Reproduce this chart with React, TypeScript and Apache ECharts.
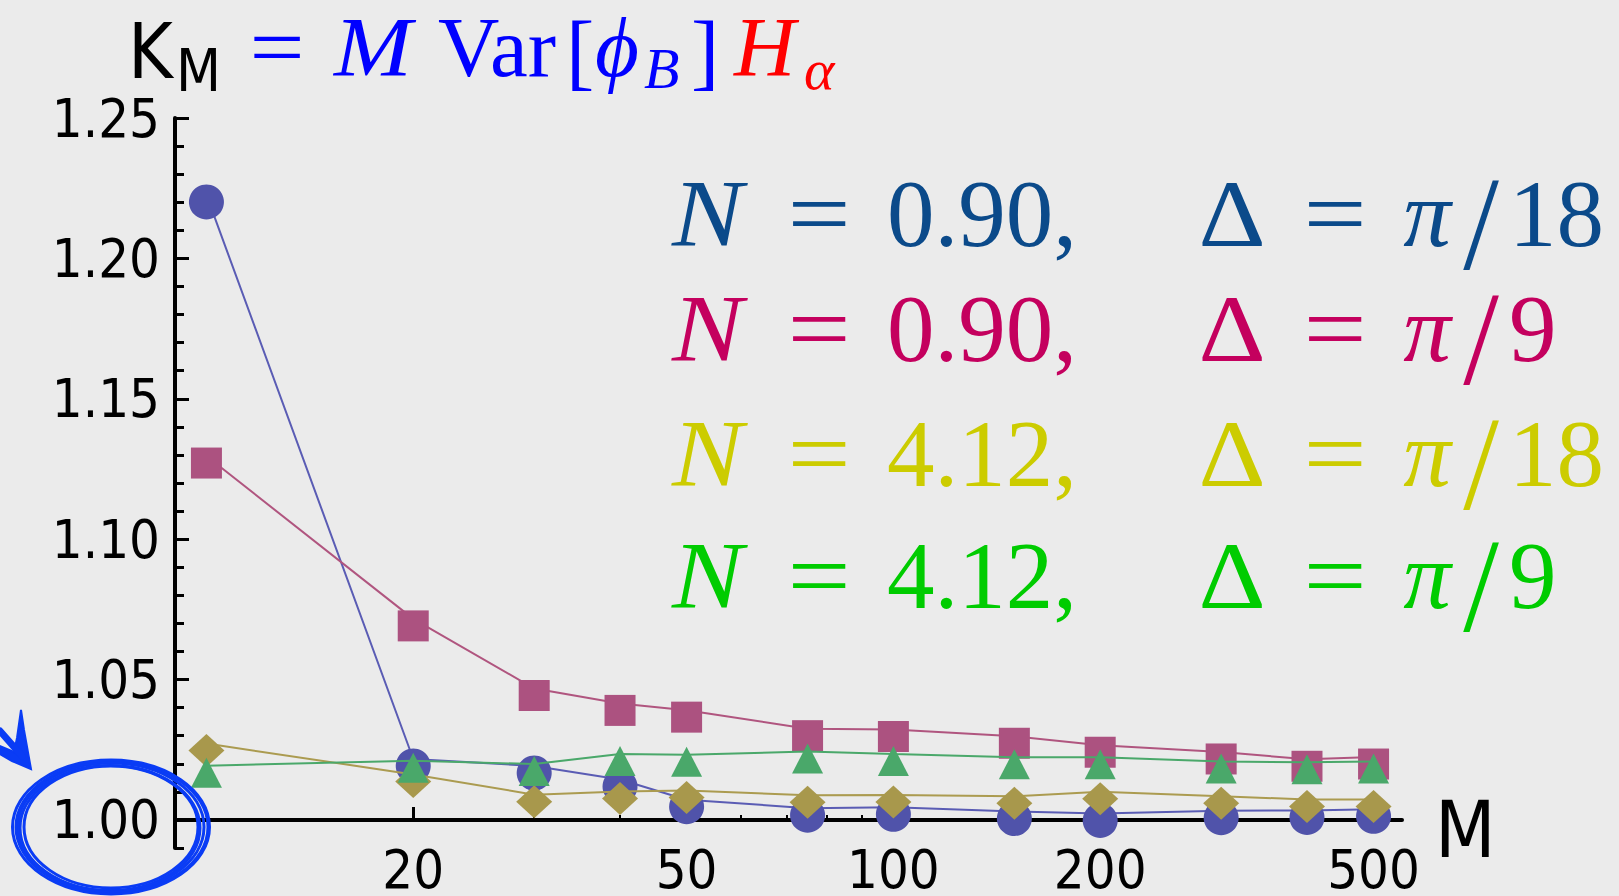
import React, { useEffect, useRef } from "react";
import * as echarts from "echarts";

// ---- data ----
const M_VALUES = [10, 20, 30, 40, 50, 75, 100, 150, 200, 300, 400, 500];
const K_N090_PI18 = [1.2226, 1.0217, 1.0192, 1.0144, 1.0072, 1.0042, 1.0045, 1.003, 1.0023, 1.0033, 1.0034, 1.0038];
const K_N090_PI9 = [1.1296, 1.0716, 1.0468, 1.0415, 1.0391, 1.0325, 1.0322, 1.0298, 1.0266, 1.0242, 1.0216, 1.0224];
const K_N412_PI18 = [1.0272, 1.0162, 1.009, 1.0101, 1.0105, 1.0088, 1.0089, 1.0084, 1.01, 1.0084, 1.0073, 1.0073];
const K_N412_PI9 = [1.0193, 1.0211, 1.0199, 1.0235, 1.0232, 1.0244, 1.0235, 1.0223, 1.0223, 1.0208, 1.0205, 1.0208];

const X_MAJOR_TICKS = [20, 50, 100, 200, 500];
const X_MINOR_TICKS = [30, 40, 60, 70, 80, 90, 300, 400];
const Y_MAJOR_TICKS = [1.0, 1.05, 1.1, 1.15, 1.2, 1.25];
const Y_MINOR_TICKS = [0.99, 1.01, 1.02, 1.03, 1.04, 1.06, 1.07, 1.08, 1.09, 1.11, 1.12, 1.13, 1.14, 1.16, 1.17, 1.18, 1.19, 1.21, 1.22, 1.23, 1.24];

const LEGEND_N = ["0.90,", "0.90,", "4.12,", "4.12,"];
const LEGEND_DELTA = ["18", "9", "18", "9"];
const LEGEND_COLORS = ["#0b4a8a", "#c4005e", "#cccc00", "#00cc00"];
const LEGEND_BASELINES = [246, 361, 486, 608];

const SANS = '"DejaVu Sans Condensed", "DejaVu Sans", sans-serif';
const SERIF = '"Liberation Serif", "DejaVu Serif", serif';

function txt(text: string, x: number, baseline: number, size: number, color: string, opts: any = {}) {
  const font = `${opts.italic ? "italic " : ""}${opts.bold ? "bold " : ""}${size}px ${opts.family || SERIF}`;
  const el: any = {
    type: "text",
    silent: true,
    z: 50,
    x,
    y: opts.cy !== undefined ? opts.cy : baseline - 0.34 * size,
    style: {
      text,
      font,
      fill: color,
      textAlign: opts.align || "left",
      textVerticalAlign: "middle",
    },
  };
  if (opts.sx) el.scaleX = opts.sx;
  if (opts.sy) el.scaleY = opts.sy;
  return el;
}

function buildOption() {
  const lg = (v: number) => Math.log10(v);
  const mk = (arr: number[]) => M_VALUES.map((m, i) => [lg(m), arr[i]]);
  const seriesDefs = [
    { data: K_N090_PI18, symbol: "circle", size: [35, 35], color: "#5053aa", line: "#5a5cb4" },
    { data: K_N090_PI9, symbol: "rect", size: [31, 31], color: "#ac5280", line: "#b0557f" },
    { data: K_N412_PI18, symbol: "diamond", size: [36, 33], color: "#a8984c", line: "#ab9b50" },
    { data: K_N412_PI9, symbol: "triangle", size: [31, 30], color: "#4aa86a", line: "#4aa86a" },
  ];

  const graphics: any[] = [];
  // title
  graphics.push(txt("K", 128, 77, 76, "#000", { family: SANS }));
  graphics.push(txt("M", 176, 91, 58, "#000", { family: SANS }));
  graphics.push(txt("=", 277, 76, 85, "#0000ff", { align: "center", sx: 1.15 }));
  graphics.push(txt("M", 334, 76, 85, "#0000ff", { italic: true, sx: 1.1 }));
  graphics.push(txt("Var", 438, 76, 85, "#0000ff"));
  graphics.push(txt("[", 566, 80, 85, "#0000ff"));
  graphics.push(txt("ϕ", 595, 76, 85, "#0000ff", { italic: true }));
  graphics.push(txt("B", 644, 88, 58, "#0000ff", { italic: true }));
  graphics.push(txt("]", 691, 80, 85, "#0000ff"));
  graphics.push(txt("H", 734, 76, 85, "#ff0000", { italic: true }));
  graphics.push(txt("α", 804, 89, 58, "#ff0000", { italic: true }));
  // x axis name
  graphics.push(txt("M", 1435, 857, 78, "#000", { family: SANS }));
  // legend rows
  for (let i = 0; i < 4; i++) {
    const b = LEGEND_BASELINES[i];
    const c = LEGEND_COLORS[i];
    graphics.push(txt("N", 672, b, 95, c, { italic: true, sx: 1.12 }));
    graphics.push(txt("=", 819, b, 95, c, { align: "center", sx: 1.18 }));
    graphics.push(txt(LEGEND_N[i], 887, b, 95, c));
    graphics.push(txt("Δ", 1232, b, 95, c, { align: "center", sx: 1.1 }));
    graphics.push(txt("=", 1335, b, 95, c, { align: "center", sx: 1.18 }));
    graphics.push(txt("π", 1427, b, 95, c, { align: "center", italic: true }));
    graphics.push(txt("/", 1481, b, 95, c, { align: "center", cy: b - 22, sx: 1.35, sy: 1.4 }));
    graphics.push(txt(LEGEND_DELTA[i], 1509, b, 95, c));
  }
  // hand-drawn ellipse & arrow
  const blue = "#0a3cf5";
  const ell = [
    { rx: 87, ry: 61, cx: 111, cy: 827 },
    { rx: 90, ry: 62.5, cx: 110, cy: 828 },
    { rx: 93, ry: 64, cx: 111, cy: 827 },
    { rx: 96, ry: 65.5, cx: 112, cy: 827 },
    { rx: 98.5, ry: 67, cx: 111, cy: 827 },
  ];
  ell.forEach((e) =>
    graphics.push({
      type: "ellipse",
      silent: true,
      z: 60,
      shape: { cx: e.cx, cy: e.cy, rx: e.rx, ry: e.ry },
      style: { fill: "none", stroke: blue, lineWidth: 3 },
    })
  );
  graphics.push({
    type: "polygon",
    silent: true,
    z: 60,
    shape: {
      points: [
        [21, 710],
        [24, 730],
        [31, 769],
        [12, 761],
        [0, 754],
        [0, 746],
        [14, 752],
        [17, 738],
      ],
    },
    style: { fill: blue, stroke: blue, lineWidth: 2 },
  });
  graphics.push({
    type: "polyline",
    silent: true,
    z: 60,
    shape: { points: [[0, 731], [22, 756]] },
    style: { fill: "none", stroke: blue, lineWidth: 7, lineCap: "round" },
  });

  return {
    animation: false,
    backgroundColor: "#ebebeb",
    grid: { left: 175, right: 217, top: 118, bottom: 44, containLabel: false },
    xAxis: [
      {
        type: "value",
        min: lg(9),
        max: lg(550),
        position: "bottom",
        offset: -28,
        axisLine: { show: true, onZero: false, lineStyle: { color: "#000", width: 4 } },
        axisTick: {
          show: true,
          inside: true,
          length: 13,
          customValues: X_MAJOR_TICKS.map(lg),
          lineStyle: { color: "#000", width: 3 },
        },
        axisLabel: {
          show: true,
          customValues: X_MAJOR_TICKS.map(lg),
          formatter: (v: number) => String(Math.round(Math.pow(10, v))),
          fontSize: 54,
          fontFamily: SANS,
          color: "#000",
          margin: 22,
        },
        splitLine: { show: false },
      },
      {
        type: "value",
        min: lg(9),
        max: lg(550),
        position: "bottom",
        offset: -28,
        axisLine: { show: false, onZero: false },
        axisTick: {
          show: true,
          inside: true,
          length: 5,
          customValues: X_MINOR_TICKS.map(lg),
          lineStyle: { color: "#000", width: 2 },
        },
        axisLabel: { show: false },
        splitLine: { show: false },
      },
    ],
    yAxis: [
      {
        type: "value",
        min: 0.99,
        max: 1.25,
        position: "left",
        axisLine: { show: true, onZero: false, lineStyle: { color: "#000", width: 4 } },
        axisTick: {
          show: true,
          inside: true,
          length: 14,
          customValues: Y_MAJOR_TICKS,
          lineStyle: { color: "#000", width: 3 },
        },
        axisLabel: {
          show: true,
          customValues: Y_MAJOR_TICKS,
          formatter: (v: number) => v.toFixed(2),
          fontSize: 54,
          fontFamily: SANS,
          color: "#000",
          margin: 15,
        },
        splitLine: { show: false },
      },
      {
        type: "value",
        min: 0.99,
        max: 1.25,
        position: "left",
        axisLine: { show: false, onZero: false },
        axisTick: {
          show: true,
          inside: true,
          length: 9,
          customValues: Y_MINOR_TICKS,
          lineStyle: { color: "#000", width: 3 },
        },
        axisLabel: { show: false },
        splitLine: { show: false },
      },
    ],
    series: seriesDefs.map((s, i) => ({
      type: "line",
      xAxisIndex: 0,
      yAxisIndex: 0,
      data: mk(s.data),
      symbol: s.symbol,
      symbolSize: s.size,
      symbolOffset: [0, 7],
      showSymbol: true,
      z: 2 + i,
      itemStyle: { color: s.color, opacity: 1 },
      lineStyle: { color: s.line, width: 2 },
      emphasis: { disabled: true },
      silent: true,
    })),
    graphic: graphics,
  };
}

export default function App() {
  const ref = useRef<HTMLDivElement>(null);
  useEffect(() => {
    const chart = echarts.init(ref.current as HTMLDivElement, null, { renderer: "svg" });
    chart.setOption(buildOption() as any);
    return () => chart.dispose();
  }, []);
  return (
    <div
      ref={ref}
      style={{ position: "fixed", left: 0, top: 0, width: 1619, height: 896 }}
    />
  );
}
